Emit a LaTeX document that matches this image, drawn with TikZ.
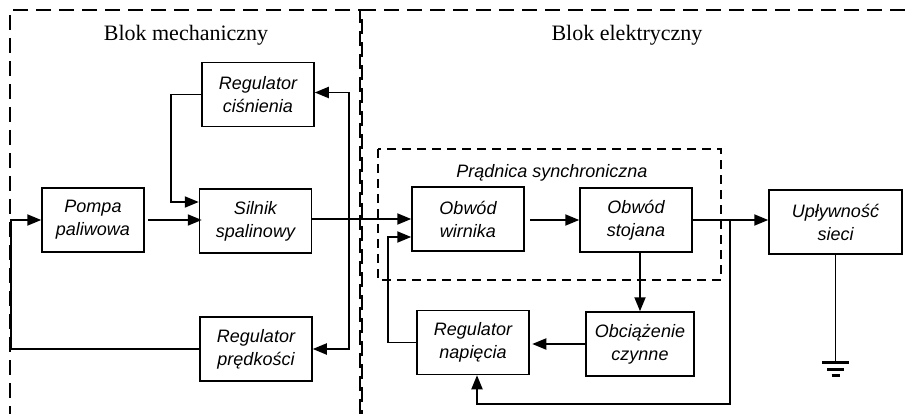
\documentclass[tikz,border=0pt]{standalone}
\usepackage{fontspec}
\setmainfont{Liberation Serif}
\setsansfont{Liberation Sans}
\usetikzlibrary{arrows.meta}

\tikzset{
    blok/.style={draw, line width=1.5pt, minimum width=112pt, minimum height=64pt,
        inner sep=0pt, align=center, font=\sffamily\itshape\fontsize{18}{23}\selectfont},
    arr/.style={line width=1.9pt, -{Triangle[length=14pt,width=11pt]}},
    wire/.style={line width=1.9pt},
    ramka/.style={line width=2.8pt, dash pattern=on 15pt off 8pt},
    ramkaw/.style={line width=1.8pt, dash pattern=on 9pt off 6pt},
    tytul/.style={font=\fontsize{22}{26}\selectfont},
    ziemia/.style={line width=2.8pt}
}

\begin{document}
\begin{tikzpicture}[x=1pt,y=-1pt]
    \useasboundingbox (0,0) rectangle (905,414);
    \draw [ramka] (360,414) -- (360,10) -- (10,10) -- (10,414);
    \draw [ramka, dash phase=11pt] (362,414) -- (362,10) -- (905,10);
    \draw [ramkaw] (378,149) rectangle (721,280);
    \node [tytul] (mech) at (186,35) {Blok mechaniczny};
    \node [tytul] (elek) at (627,35) {Blok elektryczny};
    \node [font=\sffamily\itshape\fontsize{18}{23}\selectfont] (pradnica) at (552,173) {Prądnica synchroniczna};
    \node [blok] (rc) at (258,94.5) {Regulator\\ciśnienia};
    \node [blok, minimum width=102pt] (pp) at (93,220) {Pompa\\paliwowa};
    \node [blok] (sil) at (255.5,221) {Silnik\\spalinowy};
    \node [blok] (rp) at (256,349) {Regulator\\prędkości};
    \node [blok] (ow) at (468,219) {Obwód\\wirnika};
    \node [blok] (os) at (636,220) {Obwód\\stojana};
    \node [blok] (rn) at (473,342.5) {Regulator\\napięcia};
    \node [blok, minimum width=108pt] (oc) at (640,344) {Obciążenie\\czynne};
    \node [blok, minimum width=133pt] (us) at (835.5,222) {Upływność\\sieci};
    \coordinate (br) at (349,219);
    \coordinate (jn) at (730,220);
    \coordinate (lo) at (730,404);
    \draw [arr] (rc.west) -- ++(-30,0) |- ([yshift=19pt]sil.west);
    \draw [arr] ([xshift=3pt]pp.east) -- ([xshift=3pt]pp.east -| sil.west);
    \draw [arr] (sil.east |- ow.west) -- (ow.west);
    \draw [arr] (br) |- ([yshift=2pt]rc.east);
    \draw [arr] (br) |- (rp.east);
    \draw [arr] (rp.west) -- ++(-188,0) |- (pp.west);
    \draw [arr] ([xshift=5pt]ow.east |- os.west) -- (os.west);
    \draw [arr] (os.east) -- (os.east -| us.west);
    \draw [arr] (jn) -- (lo) -| ([xshift=4pt]rn.south);
    \draw [arr] (oc.north |- os.south) -- (oc.north);
    \draw [arr] (oc.west) -- ++(-53,0);
    \draw [arr] (rn.west) -- ++(-28,0) |- ([yshift=-18pt]ow.west);
    \draw [wire] (us.south) -- ++(0,108) coordinate (gnd);
    \draw [ziemia] ([xshift=-13.5pt]gnd) -- ([xshift=13.5pt]gnd);
    \draw [ziemia] ([xshift=-8.5pt,yshift=-7pt]gnd) -- ([xshift=8.5pt,yshift=-7pt]gnd);
    \draw [ziemia] ([xshift=-4pt,yshift=-13pt]gnd) -- ([xshift=4pt,yshift=-13pt]gnd);
\end{tikzpicture}
\end{document}
